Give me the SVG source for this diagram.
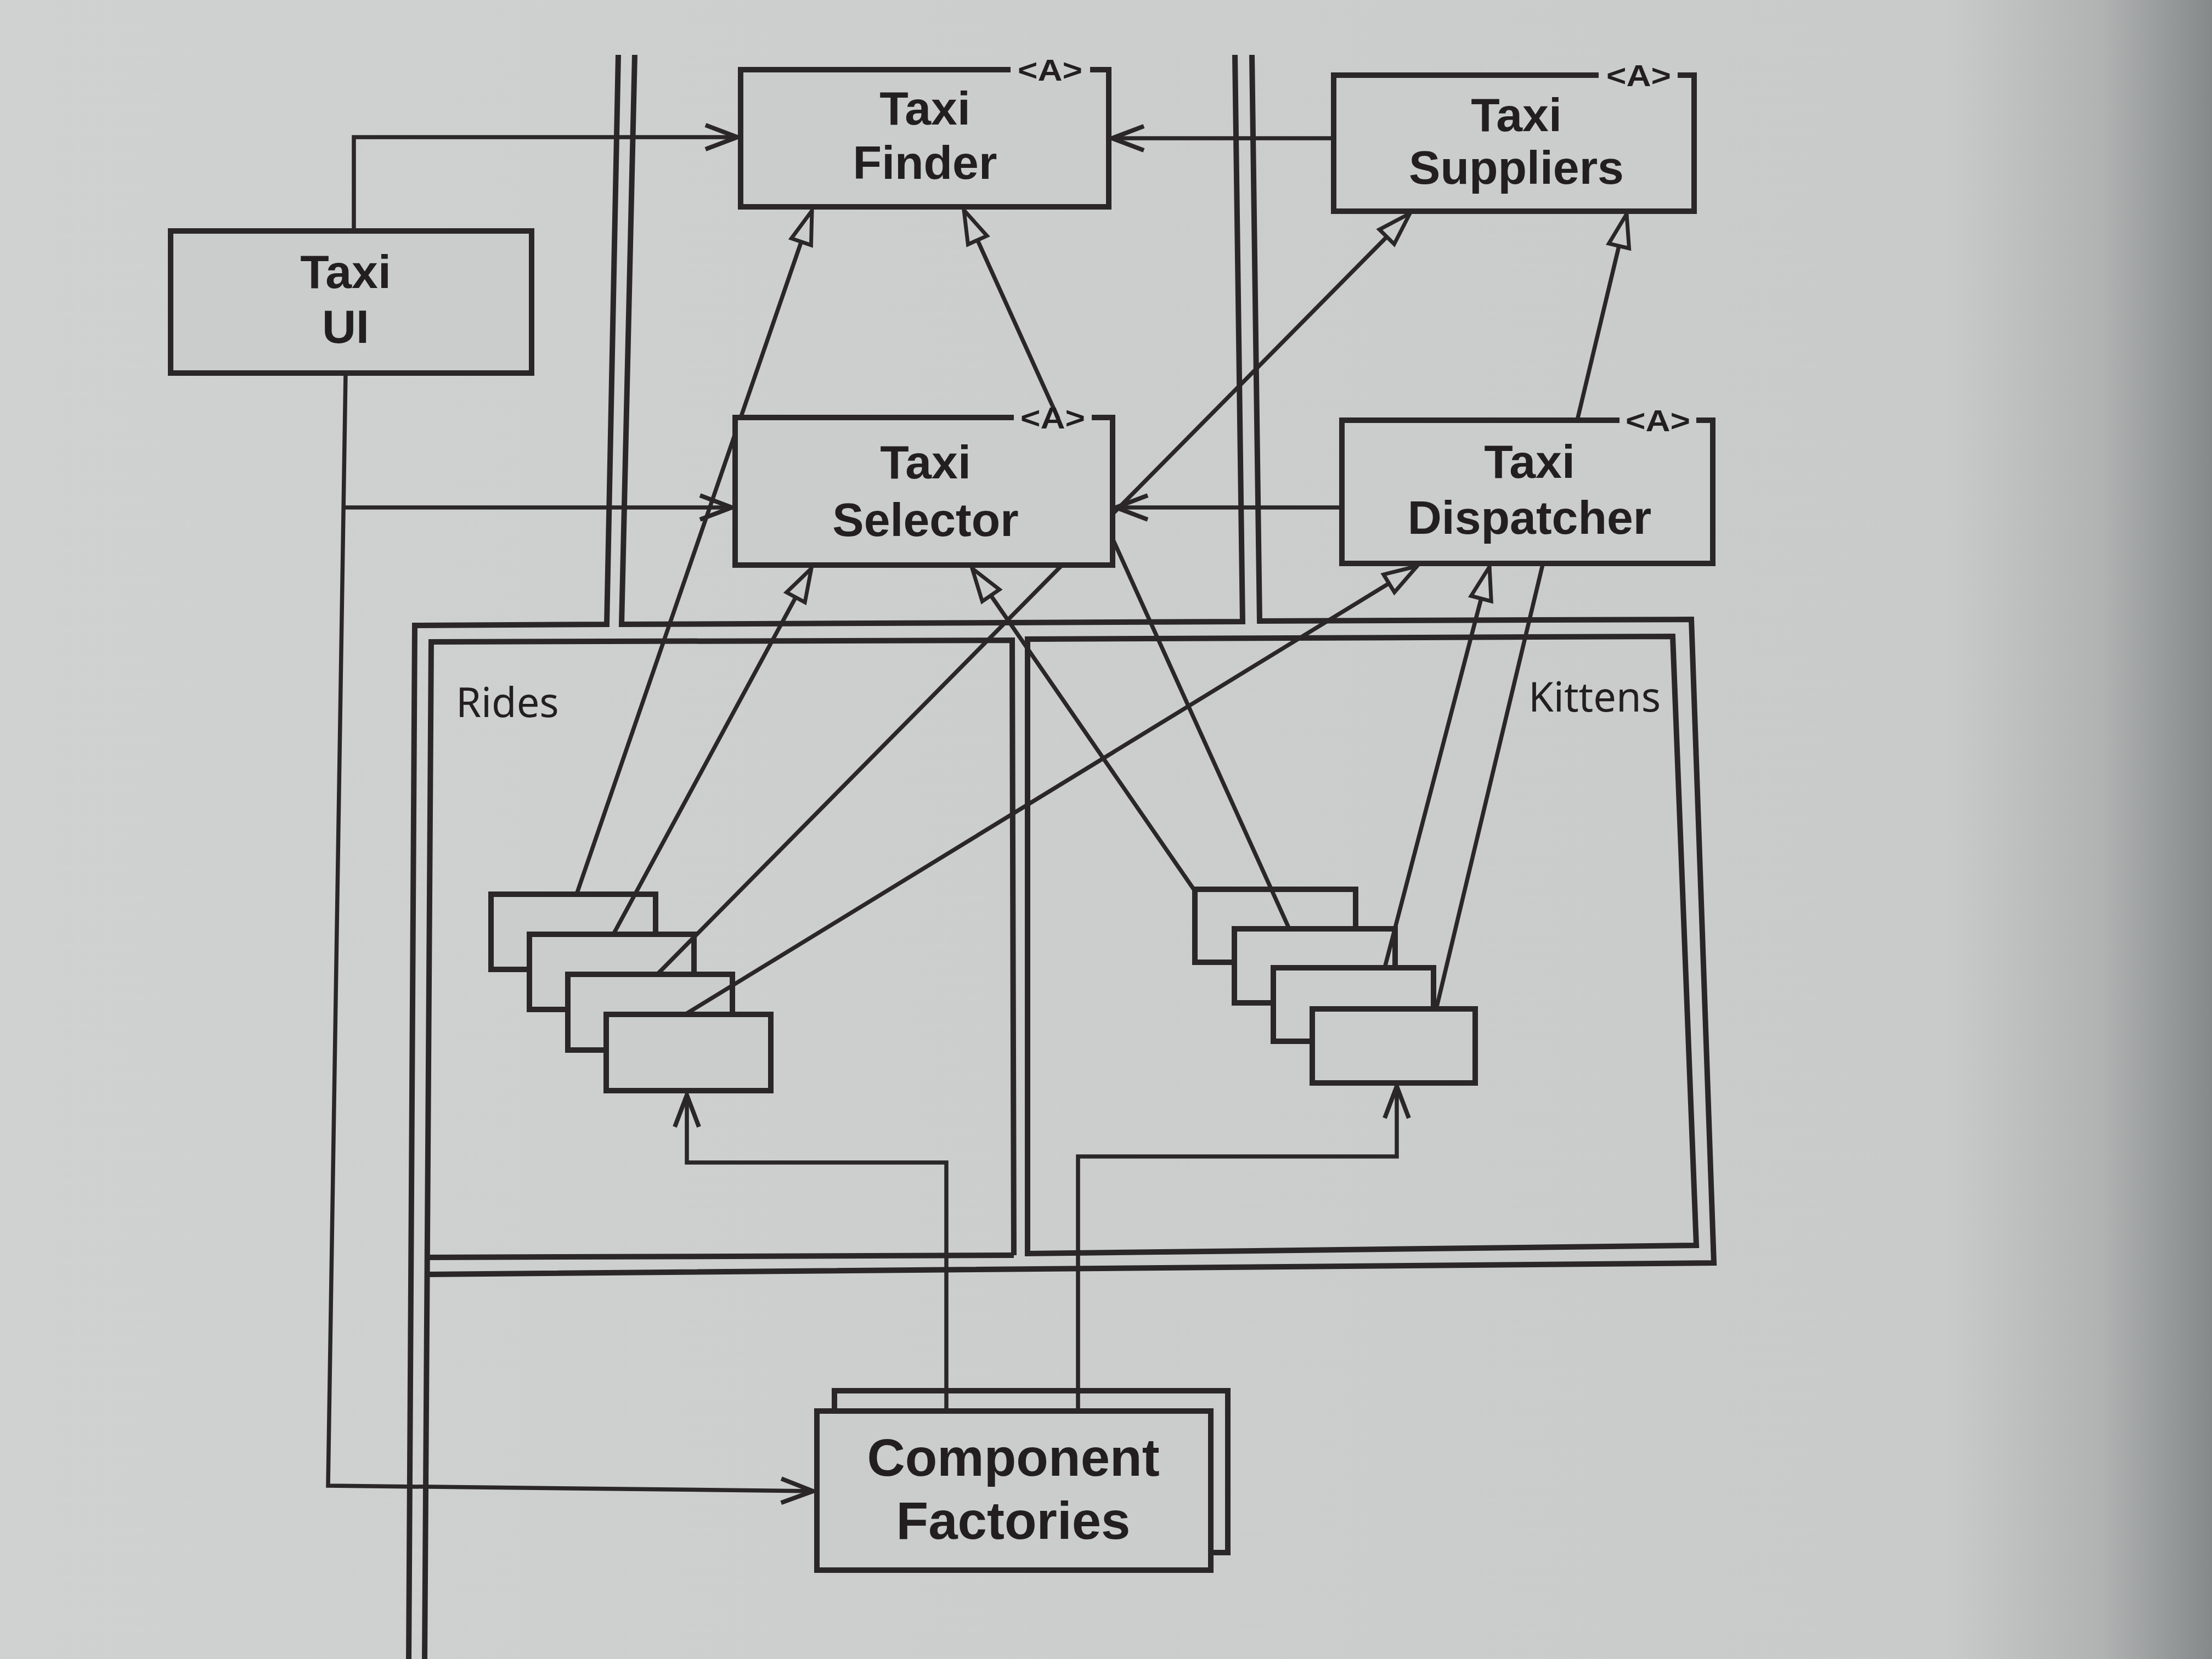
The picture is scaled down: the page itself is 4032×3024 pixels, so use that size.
<svg xmlns="http://www.w3.org/2000/svg" width="4032" height="3024" viewBox="0 0 4032 3024">
<defs>
<linearGradient id="bg" x1="0" y1="0" x2="1" y2="0">
<stop offset="0" stop-color="#cfd2d1"/>
<stop offset="0.88" stop-color="#c8cbca"/>
<stop offset="0.95" stop-color="#b0b3b2"/>
<stop offset="1" stop-color="#85898a"/>
</linearGradient>
<marker id="open" markerUnits="userSpaceOnUse" viewBox="-70 -35 80 70" refX="0" refY="0" markerWidth="80" markerHeight="70" orient="auto" overflow="visible">
<path d="M-58,-22 L0,0 L-58,22" fill="none" stroke="#2b2728" stroke-width="8"/>
</marker>
<marker id="tri" markerUnits="userSpaceOnUse" viewBox="-75 -30 85 60" refX="0" refY="0" markerWidth="85" markerHeight="60" orient="auto" overflow="visible">
<path d="M0,0 L-60,-19 L-60,19 Z" fill="#cacdcc" stroke="#2b2728" stroke-width="7" stroke-linejoin="miter"/>
</marker>
<style>
.bd{fill:none;stroke:#2b2728;stroke-width:10;stroke-linejoin:miter}
.box{fill:#cacdcc;stroke:#2b2728;stroke-width:10;stroke-linejoin:miter}
.c{fill:none;stroke:#2b2728;stroke-width:7.5}
.t{font-family:"Liberation Sans",Arial,sans-serif;font-weight:700;fill:#231f20;text-anchor:middle}
.n{font-size:86px}
.f{font-size:96px}
.a{font-size:56px}
.p{font-family:"Noto Sans","Open Sans","DejaVu Sans",sans-serif;font-size:74px;fill:#231f20}
</style>
</defs>
<rect x="0" y="0" width="4032" height="3024" fill="url(#bg)"/>

<g id="boundaries">
<path class="bd" d="M1127,100 L1106,1138 L756,1140 L745,3030"/>
<path class="bd" d="M1157,100 L1133,1138 L2265,1133 L2251,100"/>
<path class="bd" d="M2282,100 L2296,1132 L3083,1129 L3124,2302 L776,2323"/>
</g>

<g id="rides">
<path class="bd" d="M1848,2288 L1845,1167 L786,1170 L774,3030"/>
<path class="bd" d="M1848,2288 L776,2292"/>
<text class="p" x="831" y="1307">Rides</text>
</g>

<g id="kittens">
<path class="bd" d="M1873,2285 L1873,1165 L3049,1160 L3092,2270 Z"/>
<text class="p" x="2786" y="1297">Kittens</text>
</g>

<g id="rides-components">
<rect class="box" x="895" y="1630" width="300" height="137"/>
<rect class="box" x="965" y="1703" width="300" height="137"/>
<rect class="box" x="1035" y="1776" width="300" height="138"/>
<rect class="box" x="1105" y="1849" width="300" height="139"/>
</g>

<g id="kittens-components">
<rect class="box" x="2178" y="1621" width="293" height="133"/>
<rect class="box" x="2250" y="1693" width="293" height="135"/>
<rect class="box" x="2321" y="1764" width="292" height="134"/>
<rect class="box" x="2392" y="1839" width="297" height="135"/>
</g>

<g id="component-factories">
<rect class="box" x="1521" y="2535" width="717" height="295"/>
<rect class="box" x="1489" y="2572" width="718" height="290"/>
<text class="t f" x="1847" y="2690">Component</text>
<text class="t f" x="1847" y="2805">Factories</text>
</g>

<g id="connectors">
<path class="c" d="M645,421 V250 H1344" marker-end="url(#open)"/>
<path class="c" d="M2431,252 H2027" marker-end="url(#open)"/>
<path class="c" d="M627,925 H1334" marker-end="url(#open)"/>
<path class="c" d="M2446,925 H2034" marker-end="url(#open)"/>
<path class="c" d="M630,680 L598,2708 L1482,2718" marker-end="url(#open)"/>
<path class="c" d="M1725,2572 V2119 H1252 V1996" marker-end="url(#open)"/>
<path class="c" d="M1965,2572 V2108 H2546 V1980" marker-end="url(#open)"/>
<path class="c" d="M1051,1630 L1480,384" marker-end="url(#tri)"/>
<path class="c" d="M1118,1703 L1479,1036" marker-end="url(#tri)"/>
<path class="c" d="M1198,1776 L2570,389" marker-end="url(#tri)"/>
<path class="c" d="M1249,1849 L2583,1032" marker-end="url(#tri)"/>
<path class="c" d="M2176,1621 L1772,1036" marker-end="url(#tri)"/>
<path class="c" d="M2350,1693 L1757,383" marker-end="url(#tri)"/>
<path class="c" d="M2524,1764 L2715,1033" marker-end="url(#tri)"/>
<path class="c" d="M2618,1839 L2965,390" marker-end="url(#tri)"/>
</g>

<g id="taxi-ui">
<rect class="box" x="311" y="421" width="658" height="259"/>
<text class="t n" x="630" y="525">Taxi</text>
<text class="t n" x="630" y="625">UI</text>
</g>

<g id="taxi-finder">
<path class="box" d="M1987,127 H2021 V377 H1350 V127 H1842"/>
<text class="t a" x="1914" y="147" textLength="118" lengthAdjust="spacingAndGlyphs">&lt;A&gt;</text>
<text class="t n" x="1686" y="227">Taxi</text>
<text class="t n" x="1686" y="326">Finder</text>
</g>

<g id="taxi-suppliers">
<path class="box" d="M3058,137 H3088 V385 H2431 V137 H2914"/>
<text class="t a" x="2987" y="157" textLength="118" lengthAdjust="spacingAndGlyphs">&lt;A&gt;</text>
<text class="t n" x="2764" y="239">Taxi</text>
<text class="t n" x="2764" y="335">Suppliers</text>
</g>

<g id="taxi-selector">
<path class="box" d="M1990,761 H2028 V1030 H1340 V761 H1848"/>
<text class="t a" x="1919" y="781" textLength="118" lengthAdjust="spacingAndGlyphs">&lt;A&gt;</text>
<text class="t n" x="1687" y="872">Taxi</text>
<text class="t n" x="1687" y="977">Selector</text>
</g>

<g id="taxi-dispatcher">
<path class="box" d="M3092,766 H3122 V1027 H2446 V766 H2952"/>
<text class="t a" x="3022" y="786" textLength="118" lengthAdjust="spacingAndGlyphs">&lt;A&gt;</text>
<text class="t n" x="2788" y="871">Taxi</text>
<text class="t n" x="2788" y="973">Dispatcher</text>
</g>
</svg>
